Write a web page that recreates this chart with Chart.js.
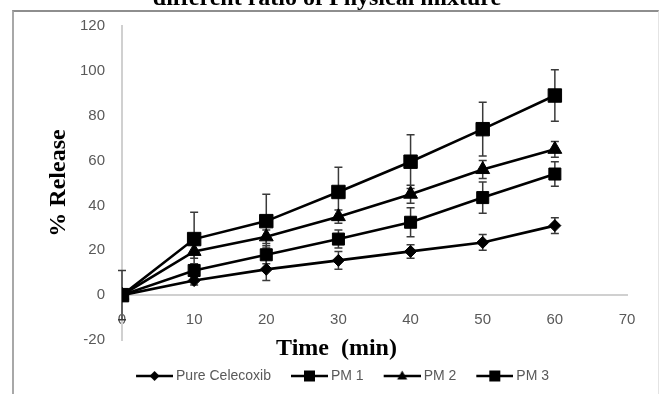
<!DOCTYPE html>
<html>
<head>
<meta charset="utf-8">
<script src="https://cdn.jsdelivr.net/npm/chart.js@4.4.1/dist/chart.umd.min.js"></script>
<style>
  html, body { margin: 0; padding: 0; background: #fff; overflow: hidden; }
  #wrap { position: relative; width: 664px; height: 394px; overflow: hidden; background: #fff; }
  #frame { position: absolute; left: 12px; top: 10px; width: 644px; height: 400px;
           border-left: 2px solid #a8a8a8; border-top: 2px solid #8e8e8e; border-right: 1px solid #e4e4e4; }
  #title { position: absolute; left: 0; top: -15px; width: 654px; text-align: center;
           font: bold 24px "Liberation Serif", "Times New Roman", serif; line-height: 24px; color: #000; white-space: nowrap; }
  #c { position: absolute; left: 0; top: 0; }
</style>
</head>
<body>
<div id="wrap">
  <div id="frame"></div>
  <canvas id="c" width="664" height="394"></canvas>
  <div id="title">different ratio of Physical mixture</div>
</div>
<script>
// ---- data ----
const timeMin = [0, 10, 20, 30, 40, 50, 60];
const seriesNames = ["Pure Celecoxib", "PM 1", "PM 2", "PM 3"];
const pureCelecoxib = [0, 6.5, 11.5, 15.5, 19.5, 23.5, 31];
const pm1 = [0, 11, 18, 25, 32.5, 43.5, 54];
const pm2 = [0, 19.5, 26, 35, 45, 56, 65];
const pm3 = [0, 25, 33, 46, 59.5, 74, 89];
const errPure = [0, 2, 5, 4, 3, 3.5, 3.5];
const errPm1 = [0, 3, 4, 4, 6.5, 7, 5.5];
const errPm2 = [0, 3, 3, 3, 4, 4, 3.5];
const errPm3 = [11, 12, 12, 11, 12, 12, 11.5];
const yTicks = [-20, 0, 20, 40, 60, 80, 100, 120];
const xTicks = [0, 10, 20, 30, 40, 50, 60, 70];
const xTitleText = "Time  (min)";
const yTitleText = "% Release";

const seriesValues = [pureCelecoxib, pm1, pm2, pm3];
const seriesErrors = [errPure, errPm1, errPm2, errPm3];
const markerStyles = ['rectRot', 'rect', 'triangle', 'rect'];
const markerRadius = [6, 8.5, 8, 9.5];

function legendSymbol(style) {
  const W = 53, H = 18;
  const cv = document.createElement('canvas');
  cv.width = W; cv.height = H;
  const g = cv.getContext('2d');
  g.strokeStyle = '#000'; g.fillStyle = '#000'; g.lineWidth = 2.5;
  g.beginPath(); g.moveTo(16, H / 2); g.lineTo(W, H / 2); g.stroke();
  const cx = 34.5, cy = H / 2;
  g.beginPath();
  if (style === 'rectRot') {
    g.moveTo(cx, cy - 5); g.lineTo(cx + 5, cy); g.lineTo(cx, cy + 5); g.lineTo(cx - 5, cy);
  } else if (style === 'triangle') {
    g.moveTo(cx, cy - 5.5); g.lineTo(cx + 5, cy + 3.5); g.lineTo(cx - 5, cy + 3.5);
  } else {
    g.rect(cx - 5.5, cy - 5.5, 11, 11);
  }
  g.closePath(); g.fill();
  return cv;
}
const legendImages = markerStyles.map(legendSymbol);

const errorBars = {
  id: 'errorBars',
  beforeDatasetsDraw(chart) {
    const ctx = chart.ctx, xs = chart.scales.x, ys = chart.scales.y;
    ctx.save();
    ctx.strokeStyle = '#3a3a3a';
    ctx.lineWidth = 1.5;
    chart.data.datasets.forEach((ds, i) => {
      const errs = seriesErrors[i], vals = seriesValues[i];
      vals.forEach((v, j) => {
        const e = errs[j];
        if (!e) return;
        const px = xs.getPixelForValue(timeMin[j]);
        const yt = ys.getPixelForValue(v + e), yb = ys.getPixelForValue(v - e);
        ctx.beginPath();
        ctx.moveTo(px, yt); ctx.lineTo(px, yb);
        ctx.moveTo(px - 4, yt); ctx.lineTo(px + 4, yt);
        ctx.moveTo(px - 4, yb); ctx.lineTo(px + 4, yb);
        ctx.stroke();
      });
    });
    ctx.restore();
  }
};

const datasets = seriesNames.map((name, i) => ({
  label: name,
  data: timeMin.map((t, j) => ({ x: t, y: seriesValues[i][j] })),
  xAxisID: 'x', yAxisID: 'y',
  borderColor: '#000', backgroundColor: '#000',
  borderWidth: 2.6, tension: 0,
  pointStyle: markerStyles[i], pointRadius: markerRadius[i],
  pointBackgroundColor: '#000', pointBorderColor: '#000', pointBorderWidth: 1
}));

new Chart(document.getElementById('c'), {
  type: 'line',
  data: { datasets },
  plugins: [errorBars],
  options: {
    responsive: false, animation: false,
    layout: { padding: { left: 9, right: 0, top: 26, bottom: 1 } },
    plugins: {
      tooltip: { enabled: false },
      title: { display: false },
      legend: {
        position: 'bottom',
        labels: {
          usePointStyle: true, pointStyleWidth: 45, padding: 8,
          color: '#595959',
          font: { family: '"Liberation Sans", Arial, sans-serif', size: 14 },
          generateLabels: (chart) => seriesNames.map((n, i) => ({
            text: n, pointStyle: legendImages[i], fillStyle: '#000', strokeStyle: '#000',
            lineWidth: 0, hidden: false, datasetIndex: i, fontColor: '#595959'
          }))
        }
      }
    },
    scales: {
      x: {
        type: 'linear', axis: 'x', position: { y: 0 },
        min: 0, max: 70,
        afterBuildTicks: (s) => { s.ticks = xTicks.map(v => ({ value: v })); },
        afterFit: (s) => { s.height = 0; },
        grid: { display: false, drawTicks: false },
        border: { display: true, color: '#d0d0d0', width: 2 },
        ticks: { padding: 16, color: '#595959', font: { family: '"Liberation Sans", Arial, sans-serif', size: 15 } }
      },
      y: {
        type: 'linear', axis: 'y', position: 'left',
        min: -20, max: 120,
        afterBuildTicks: (s) => { s.ticks = yTicks.map(v => ({ value: v })); },
        afterFit: (s) => { s.width = 113; },
        grid: { display: false, drawTicks: false },
        border: { display: true, color: '#d0d0d0', width: 2 },
        ticks: { padding: 17, color: '#595959', font: { family: '"Liberation Sans", Arial, sans-serif', size: 15 } },
        title: {
          display: true, text: yTitleText, color: '#000',
          font: { family: '"Liberation Serif", "Times New Roman", serif', size: 24, weight: 'bold', lineHeight: 1 },
          padding: { top: 38, bottom: 0 }
        }
      },
      y2: {
        type: 'linear', axis: 'y', position: 'right', min: 0, max: 1,
        grid: { display: false, drawTicks: false }, border: { display: false }, ticks: { display: false },
        afterFit: (s) => { s.width = 37; }
      },
      xTitle: {
        type: 'linear', axis: 'x', position: 'bottom', fullSize: true, min: 0, max: 1,
        grid: { display: false, drawTicks: false }, border: { display: false }, ticks: { display: false },
        afterFit: (s) => { s.height = 21; },
        title: {
          display: true, text: xTitleText, color: '#000',
          font: { family: '"Liberation Serif", "Times New Roman", serif', size: 24, weight: 'bold', lineHeight: 1 },
          padding: { top: 0, bottom: 0 }
        }
      }
    }
  }
});
</script>
</body>
</html>
